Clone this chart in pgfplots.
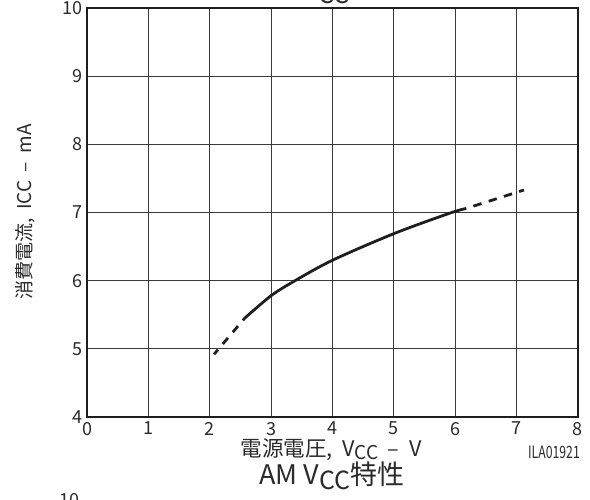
\documentclass[border=0pt]{standalone}
\usepackage{fontspec}
\setmainfont{Noto Sans CJK JP}
\usepackage{pgfplots}
\pgfplotsset{compat=1.18}

\newcommand{\sub}[3]{\raisebox{-#2ex}{\fontsize{#1}{#1}\selectfont #3}}
\definecolor{ink}{HTML}{1E1E1E}
\definecolor{txt}{HTML}{2A2A2A}
\definecolor{gridc}{HTML}{3A3A3A}

\begin{document}
\begin{tikzpicture}[x=1pt,y=1pt]
\useasboundingbox (-87,-82) rectangle (503,417);
\begin{axis}[
  at={(0pt,0pt)}, anchor=south west,
  scale only axis, width=491pt, height=409pt,
  xmin=0, xmax=8, ymin=4, ymax=10,
  xtick={0,...,8}, ytick={4,...,10},
  major tick length=0pt,
  grid=major,
  major grid style={gridc, line width=0.8pt},
  axis line style={ink, line width=1.3pt},
  /pgf/number format/assume math mode=true,
  tick label style={font=\fontsize{18}{20}\selectfont, text=txt},
  xticklabel style={yshift=-1.5pt},
  yticklabel style={xshift=-1pt},
]
% dashed extrapolation at low supply voltage
\addplot[ink, line width=2.8pt, dash pattern=on 8pt off 7.5pt, dash phase=2pt] coordinates {
  (2.07,4.92) (2.57,5.45)
};
% measured range
\addplot[ink, line width=2.8pt, smooth] coordinates {
  (2.57,5.45) (3.00,5.78) (3.39,6.00) (4.00,6.30) (5.00,6.69) (5.91,6.99) (6.18,7.06)
};
% dashed extrapolation at high supply voltage
\addplot[ink, line width=2.8pt, dash pattern=on 8.5pt off 7.5pt, dash phase=8.5pt] coordinates {
  (6.18,7.06) (7.12,7.33)
};
\end{axis}

% axis labels
\node[rotate=90, text=txt, font=\fontsize{19}{21}\selectfont] at (-62,205)
  {消費電流,\ \ ICC\ \ –\ \ mA};
\node[text=txt, font=\fontsize{21.5}{23}\selectfont] at (244,-33)
  {電源電圧,\ \ V\sub{19}{0.2}{CC}\ \ –\ \ V};
\node[anchor=east, inner sep=0pt, text=txt, font=\fontsize{17}{19}\selectfont] at (493,-35)
  {\scalebox{0.72}[1]{ILA01921}};

% chart caption
\node[anchor=base, inner sep=0pt, text=txt, font=\fontsize{27}{29}\selectfont] at (245,-67)
  {AM V\sub{25}{0.35}{CC}特性};

% neighbouring chart on the page
\node[anchor=base, inner sep=0pt, text=txt, font=\fontsize{27}{29}\selectfont] at (245,419)
  {FM V\sub{25}{0.35}{CC}特性};
\node[anchor=base east, inner sep=0pt, text=txt, font=\fontsize{18}{20}\selectfont] at (-7,-89)
  {10};
\end{tikzpicture}
\end{document}
